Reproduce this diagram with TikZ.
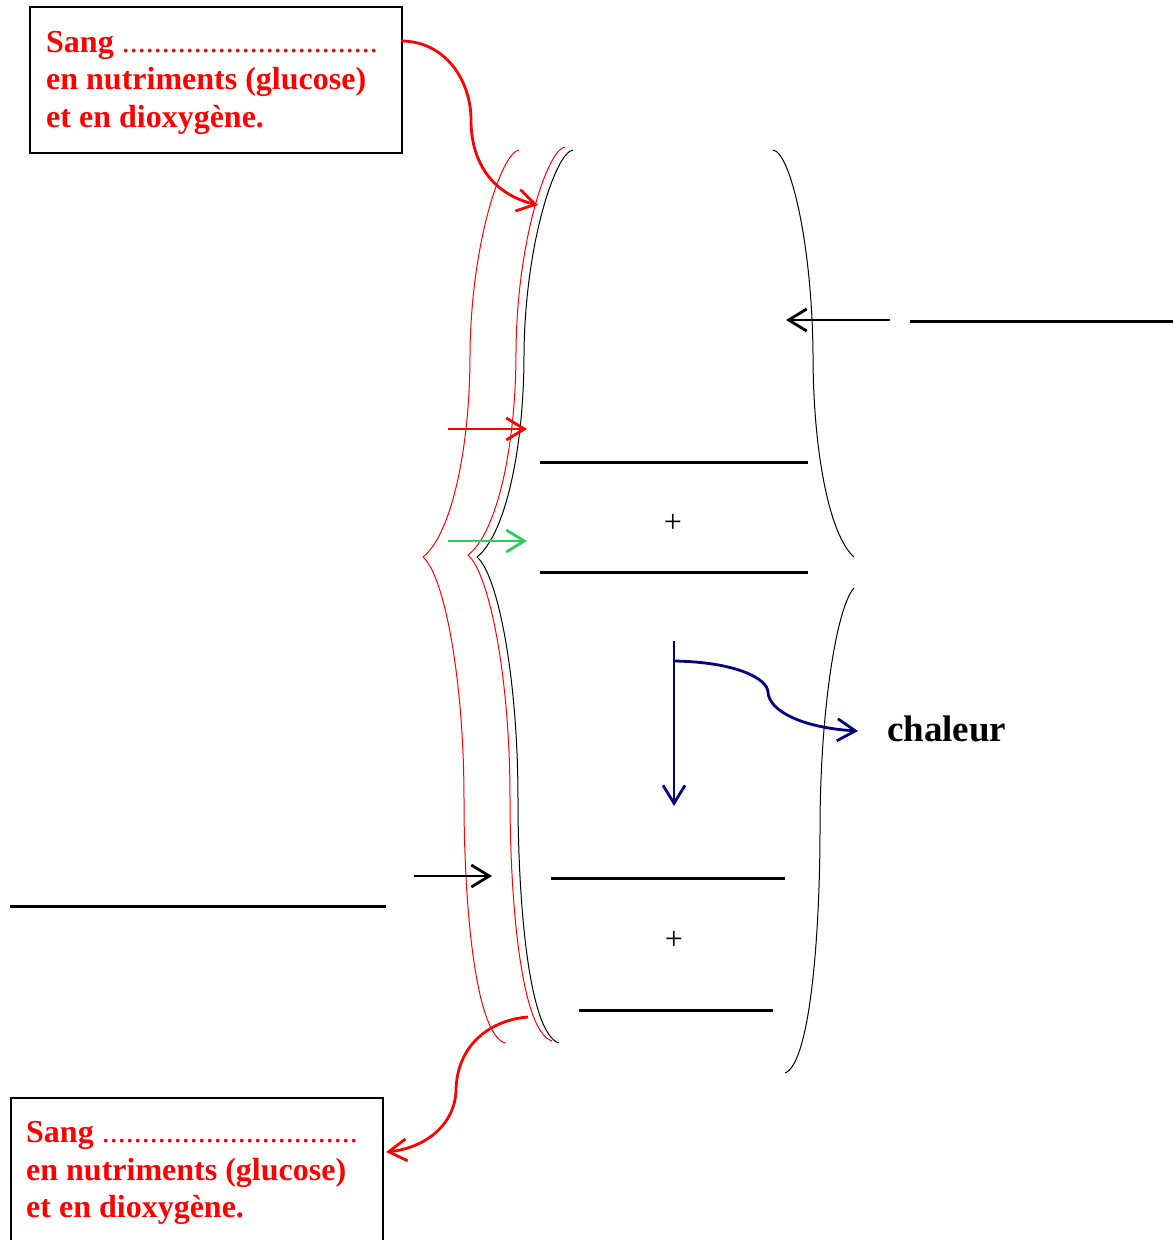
\documentclass[tikz,border=0pt]{standalone}
\usepackage{fontspec}
\setmainfont{Liberation Serif}
\usetikzlibrary{arrows.meta}
\definecolor{navyblue}{RGB}{0,0,128}
\definecolor{leafgreen}{RGB}{46,204,90}
\begin{document}
\begin{tikzpicture}[x=1pt,y=-1pt,
  barb/.style={-{Straight Barb[length=18pt,width=22pt]}},
  arrowline/.style={line width=2.8pt, barb},
  bracestroke/.style={line width=1pt},
  blank/.style={line width=3pt},
  frame/.style={draw, line width=2pt, inner sep=0pt, anchor=north west},
  redline/.style={text=red, font=\fontsize{32}{38}\selectfont\bfseries, inner sep=0pt, anchor=base west},
  plus/.style={font=\fontsize{32}{38}\selectfont, inner sep=0pt},
  label/.style={font=\fontsize{37}{44}\selectfont\bfseries, inner sep=0pt, anchor=base west}
]
\useasboundingbox (0,0) rectangle (1173,1240);
\clip (0,0) rectangle (1173,1240);

% ---------- boxes with the red captions ----------
\node[frame, minimum width=372pt, minimum height=146pt] (topbox) at (29,6) {};
\node[redline] (ta1) at (46,52) {Sang {\mdseries ................................}};
\node[redline] (ta2) at (46,89.5) {en nutriments (glucose)};
\node[redline] (ta3) at (46,127) {et en dioxygène.};

\node[frame, minimum width=372pt, minimum height=170pt] (botbox) at (10,1097) {};
\node[redline] (tb1) at (26,1142) {Sang {\mdseries ................................}};
\node[redline] (tb2) at (26,1180) {en nutriments (glucose)};
\node[redline] (tb3) at (26,1217) {et en dioxygène.};

% ---------- left braces: two red, one black ----------
\draw[red, bracestroke]
  (519,150) .. controls (502,152) and (471,242) .. (470,354)
            .. controls (470,450) and (451,535) .. (423,557)
            .. controls (444,575) and (464,678) .. (464,800)
            .. controls (464,897) and (474,1033) .. (505,1043);
\draw[red, bracestroke]
  (565,147) .. controls (548,149) and (517,239) .. (516,351)
            .. controls (516,447) and (497,533) .. (468,555)
            .. controls (489,573) and (510,676) .. (510,798)
            .. controls (510,895) and (520,1031) .. (552,1041);
\draw[black, bracestroke]
  (573,150) .. controls (556,152) and (525,242) .. (524,354)
            .. controls (524,450) and (505,535) .. (477,557)
            .. controls (498,575) and (518,678) .. (518,800)
            .. controls (518,897) and (528,1033) .. (559,1043);

% ---------- right half braces ----------
\draw[black, bracestroke]
  (773,150) .. controls (790,152) and (812,242) .. (813,354)
            .. controls (813,450) and (829,535) .. (854,557);
\draw[black, bracestroke]
  (854,588) .. controls (837,606) and (820,709) .. (820,830)
            .. controls (820,927) and (811,1063) .. (785,1073);

% ---------- blanks to fill ----------
\draw[blank] (540,462) -- (808,462);
\draw[blank] (540,572) -- (808,572);
\draw[blank] (551,878) -- (785,878);
\draw[blank] (579,1010) -- (773,1010);
\draw[blank] (910,321) -- (1173,321);
\draw[blank] (10,906.5) -- (386,906.5);

\node[plus] (p1) at (673,523) {+};
\node[plus] (p2) at (674,940) {+};

% ---------- arrows ----------
\coordinate (inA) at (401,41);
\coordinate (inB) at (538,205);
\draw[red, arrowline]
  (inA) .. controls (445,41) and (471,80) .. (471,120)
        .. controls (471,165) and (495,195) .. (inB);

\coordinate (outA) at (528,1017);
\coordinate (outB) at (386,1152);
\draw[red, arrowline]
  (outA) .. controls (490,1020) and (457,1045) .. (456,1090)
         .. controls (455,1125) and (425,1148) .. (outB);

\coordinate (r1) at (448,429);
\coordinate (r2) at (527,429);
\draw[red, arrowline] (r1) -- (r2);

\coordinate (g1) at (448,541);
\coordinate (g2) at (527,541);
\draw[leafgreen, arrowline] (g1) -- (g2);

\coordinate (k1) at (890,320);
\coordinate (k2) at (786,320);
\draw[black, arrowline] (k1) -- (k2);

\coordinate (k3) at (414,876);
\coordinate (k4) at (492,876);
\draw[black, arrowline] (k3) -- (k4);

% ---------- energy release ----------
\node[label] (heat) at (887,741) {chaleur};
\coordinate (b1) at (674,641);
\coordinate (b2) at (674,806);
\coordinate (b3) at (674,661);
\coordinate (b4) at (858,731);
\draw[navyblue, arrowline] (b1) -- (b2);
\draw[navyblue, arrowline]
  (b3) .. controls (735,662) and (767,678) .. (768,692)
       .. controls (769,712) and (805,728) .. (b4);
\end{tikzpicture}
\end{document}
